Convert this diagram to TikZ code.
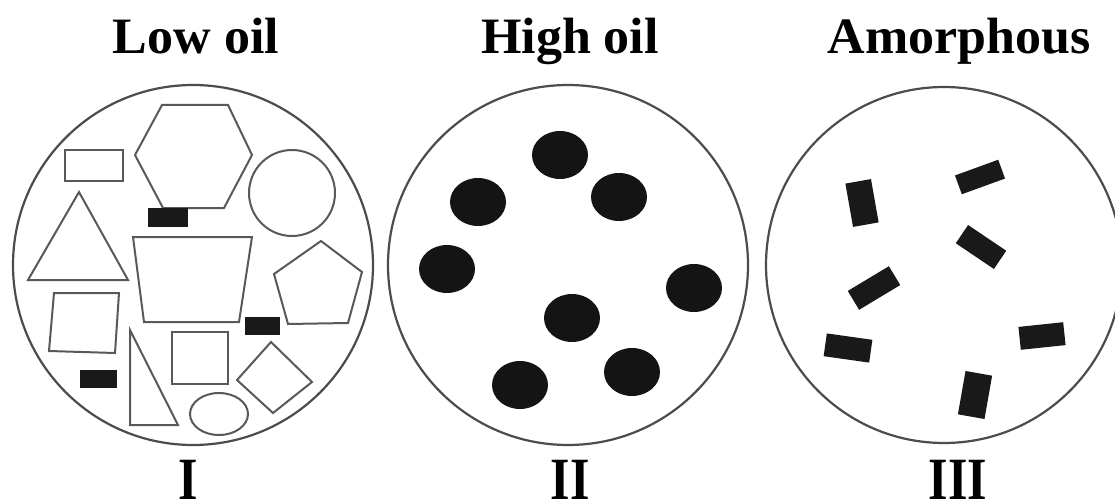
\documentclass[tikz,border=0pt]{standalone}
\usepackage{fontspec}
\setmainfont{Liberation Serif}
\begin{document}
\begin{tikzpicture}[x=1pt,y=1pt,
  ring/.style={draw=black!70,line width=2.2pt},
  outl/.style={draw=black!65,line width=2pt,line join=miter},
  blk/.style={fill=black!90,draw=none},
  blob/.style={fill=black!92,draw=none},
  bar/.style={fill=black!90,draw=none,inner sep=0pt,rectangle},
  ttl/.style={font=\fontsize{50}{52}\selectfont\bfseries,anchor=base,inner sep=0pt,xscale=1.04,yscale=1.02},
  num/.style={font=\fontsize{50}{52}\selectfont\bfseries,anchor=base,inner sep=0pt,yscale=1.2}]
\useasboundingbox (0,0) rectangle (1115,499);
\fill[white] (0,0) rectangle (1115,499);

% titles and numerals
\node[ttl] (t1) at (196,445) {Low oil};
\node[ttl] (t2) at (570,445) {High oil};
\node[ttl] (t3) at (959,445) {Amorphous};
\node[num] (n1) at (188,0) {I};
\node[num] (n2) at (570,0) {II};
\node[num] (n3) at (958,0) {III};

% circle I
\draw[ring] (193,234) circle (180);
\draw[outl] (65,318) rectangle (123,349);
\draw[outl] (162,394) -- (228,394) -- (252,344) -- (224,291) -- (163,291) -- (135,344) -- cycle;
\fill[blk] (148,272) rectangle (188,291);
\draw[outl] (292,306) circle (43);
\draw[outl] (79,307) -- (128,219) -- (28,219) -- cycle;
\draw[outl] (133,262) -- (252,262) -- (239,177) -- (144,177) -- cycle;
\draw[outl] (321,258) -- (362,227) -- (348,176) -- (288,175) -- (274,225) -- cycle;
\fill[blk] (245,164) rectangle (280,182);
\draw[outl] (54,206) -- (119,206) -- (115,146) -- (49,148) -- cycle;
\draw[outl] (130,169) -- (130,74) -- (178,74) -- cycle;
\draw[outl] (172,115) rectangle (228,167);
\fill[blk] (80,111) rectangle (117,129);
\draw[outl] (219,85) ellipse (29 and 21);
\draw[outl] (271,157) -- (312,117) -- (273,86) -- (237,119) -- cycle;

% circle II
\draw[ring] (568,234) circle (180);
\foreach \x/\y in {560/344,478/297,619/302,447/230,694/211,572/181,520/114,632/127}
  \fill[blob] (\x,\y) ellipse (28 and 24);

% circle III
\draw[ring] (944,234) circle (178);
\node[bar,minimum width=44,minimum height=26,rotate=100] (r1) at (862,296) {};
\node[bar,minimum width=46,minimum height=20,rotate=20] (r2) at (980,322) {};
\node[bar,minimum width=46,minimum height=22,rotate=-34] (r3) at (981,252) {};
\node[bar,minimum width=48,minimum height=22,rotate=31] (r4) at (874,211) {};
\node[bar,minimum width=46,minimum height=23,rotate=-8] (r5) at (848,151) {};
\node[bar,minimum width=45,minimum height=23,rotate=6] (r6) at (1042,163) {};
\node[bar,minimum width=44,minimum height=27,rotate=80] (r7) at (975,104) {};
\end{tikzpicture}
\end{document}
